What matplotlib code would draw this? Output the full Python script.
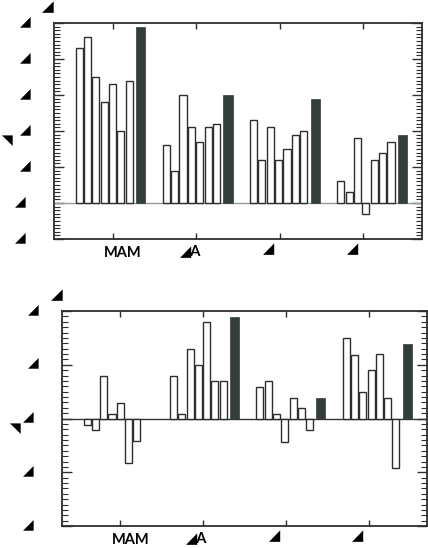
import numpy as np
import matplotlib
matplotlib.use("Agg")
import matplotlib.pyplot as plt
from matplotlib.ticker import MultipleLocator
from matplotlib.transforms import ScaledTranslation

# seasons (labels as they appear in the picture)
seasons = ["MAM", "\u25e2A", "\u25e2", "\u25e2"]

# upper panel: 7 open bars + 1 filled bar per season
top_open = [
    [4.3, 4.6, 3.5, 2.8, 3.3, 2.0, 3.4],
    [1.6, 0.9, 3.0, 2.1, 1.7, 2.1, 2.2],
    [2.3, 1.2, 2.1, 1.2, 1.5, 1.9, 2.0],
    [0.6, 0.3, 1.8, -0.3, 1.2, 1.4, 1.7],
]
top_filled = [4.9, 3.0, 2.9, 1.9]
top_yticks = [-1, 0, 1, 2, 3, 4, 5]

# lower panel
bot_open = [
    [-0.12, -0.22, 0.79, 0.09, 0.29, -0.83, -0.42],
    [0.79, 0.09, 1.29, 0.99, 1.8, 0.69, 0.69],
    [0.59, 0.70, 0.09, -0.43, 0.39, 0.19, -0.22],
    [1.5, 1.19, 0.49, 0.9, 1.2, 0.39, -0.93],
]
bot_filled = [0.0, 1.89, 0.38, 1.39]
bot_yticks = [-2, -1, 0, 1, 2]

TRI = "\u25e2"
DARK = "#333d3c"
EDGE = "#2e2e2e"
FONT = ["Lato", "DejaVu Sans"]

plt.rcParams["font.family"] = FONT
plt.rcParams["font.weight"] = "bold"

fig = plt.figure(figsize=(4.28, 5.48), dpi=100)


def nudge(lab, dx, dy):
    lab.set_transform(lab.get_transform() +
                      ScaledTranslation(dx / 100, dy / 100, fig.dpi_scale_trans))


def panel(rect, opened, filled, yticks, zero_col):
    ax = fig.add_axes(rect)
    for g in range(len(opened)):
        start = 0.6 + 1.043 * g
        xs = start + 0.1 * np.arange(len(opened[g]))
        ax.bar(xs, opened[g], width=0.085, color="white", edgecolor=EDGE,
               linewidth=1.0, zorder=3)
        ax.bar(start + 0.737, filled[g], width=0.11, color=DARK,
               edgecolor=DARK, linewidth=0.5, zorder=3)
    ax.axhline(0, color=zero_col, lw=1.0, zorder=2)
    ax.set_xlim(0.3, 4.7)
    ax.set_ylim(yticks[0], yticks[-1])
    ax.set_xticks([1, 2, 3, 4])
    ax.set_xticklabels(seasons, fontsize=10.5, fontweight="bold")
    ax.set_yticks(yticks)
    ax.set_yticklabels([TRI] * len(yticks), fontsize=10)
    ax.yaxis.set_minor_locator(MultipleLocator(0.1))
    ax.tick_params(axis="x", which="major", direction="in", length=4,
                   width=1, color=EDGE, top=True, pad=5)
    ax.tick_params(axis="y", which="major", direction="in", length=7,
                   width=1, color=EDGE, right=True, pad=17)
    ax.tick_params(axis="y", which="minor", direction="in", length=4,
                   width=0.8, color=EDGE, right=True)
    for s in ax.spines.values():
        s.set_linewidth(1.3)
        s.set_color(EDGE)
    # shift labels the way they sit in the picture
    for lab, dx, dy in zip(ax.get_xticklabels(), [10, -6, -11, -11],
                           [0, 2, 4, 4]):
        nudge(lab, dx, dy)
    for lab, v in zip(ax.get_yticklabels(), yticks):
        nudge(lab, -5 if v <= 0 else 0, 3)
    ax.text(0, 1.04, TRI, transform=ax.transAxes, ha="right", va="bottom",
            fontsize=11)
    return ax


ax1 = panel([54 / 428, 1 - 239 / 548, 368 / 428, 216 / 548],
            top_open, top_filled, top_yticks, "#9a9a9a")
ax2 = panel([62.3 / 428, 1 - 526 / 548, 364.4 / 428, 215 / 548],
            bot_open, bot_filled, bot_yticks, "#333333")

fig.text(7 / 428, 1 - 140 / 548, TRI, rotation=90, ha="center", va="center",
         fontsize=10)
fig.text(15 / 428, 1 - 428 / 548, TRI, rotation=90, ha="center", va="center",
         fontsize=10)

fig.savefig("out.png", dpi=100)
